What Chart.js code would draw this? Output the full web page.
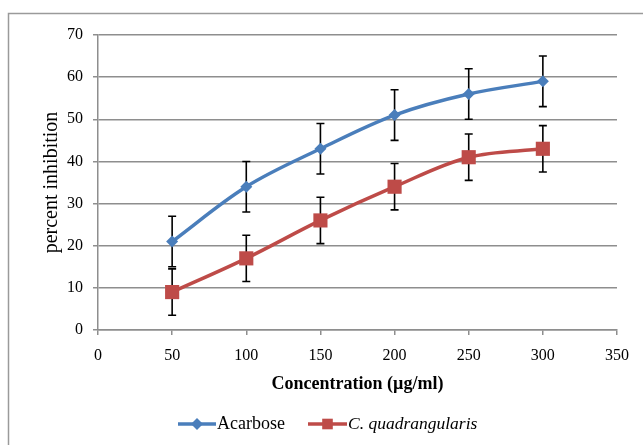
<!DOCTYPE html>
<html>
<head>
<meta charset="utf-8">
<script src="https://cdn.jsdelivr.net/npm/chart.js@4"></script>
<style>
  html, body { margin: 0; padding: 0; background: #fff; }
  #wrap { width: 643px; height: 445px; position: relative; }
</style>
</head>
<body>
<div id="wrap"><canvas id="inhibitionChart"></canvas></div>
<script>
const concentrations = [50, 100, 150, 200, 250, 300];
const acarbose = [21, 34, 43, 51, 56, 59];
const acarboseErr = [6, 6, 6, 6, 6, 6];
const cQuad = [9, 17, 26, 34, 41, 43];
const cQuadErr = [5.5, 5.5, 5.5, 5.5, 5.5, 5.5];
const xTicks = [0, 50, 100, 150, 200, 250, 300, 350];
const yTicks = [0, 10, 20, 30, 40, 50, 60, 70];
const seriesNames = ['Acarbose', 'C. quadrangularis'];

const blue = '#4a7ebb';
const red = '#be4b48';
const serif = "'Liberation Serif', 'Times New Roman', serif";

function toPoints(values) {
    return concentrations.map((c, i) => ({ x: c, y: values[i] }));
}

// error bars, drawn under the markers
const errorBars = {
    id: 'errorBars',
    beforeDatasetsDraw(chart) {
        const ctx = chart.ctx;
        const xs = chart.scales.x, ys = chart.scales.y;
        const sets = [[acarbose, acarboseErr], [cQuad, cQuadErr]];
        ctx.save();
        ctx.strokeStyle = '#000';
        ctx.lineWidth = 1.6;
        sets.forEach(([vals, errs]) => {
            vals.forEach((v, i) => {
                const x = xs.getPixelForValue(concentrations[i]);
                const top = ys.getPixelForValue(v + errs[i]);
                const bot = ys.getPixelForValue(v - errs[i]);
                ctx.beginPath();
                ctx.moveTo(x, top); ctx.lineTo(x, bot);
                ctx.moveTo(x - 4, top); ctx.lineTo(x + 4, top);
                ctx.moveTo(x - 4, bot); ctx.lineTo(x + 4, bot);
                ctx.stroke();
            });
        });
        ctx.restore();
    }
};

// outer frame and Excel-style legend
const frameAndLegend = {
    id: 'frameAndLegend',
    afterDraw(chart) {
        const ctx = chart.ctx;
        ctx.save();
        ctx.strokeStyle = '#9a9a9a';
        ctx.lineWidth = 1.5;
        ctx.beginPath();
        ctx.moveTo(8.5, 445); ctx.lineTo(8.5, 13.5); ctx.lineTo(643, 13.5);
        ctx.stroke();

        const y = 424;
        const items = [
            { x0: 178, x1: 216, color: blue, style: 'rectRot', r: 6, font: '18px ' },
            { x0: 308, x1: 347, color: red, style: 'rect', r: 7.5, font: 'italic 17.5px ' }
        ];
        items.forEach((it, i) => {
            ctx.strokeStyle = it.color;
            ctx.fillStyle = it.color;
            ctx.lineWidth = 3.5;
            ctx.beginPath();
            ctx.moveTo(it.x0, y); ctx.lineTo(it.x1, y);
            ctx.stroke();
            Chart.helpers.drawPoint(ctx, { pointStyle: it.style, radius: it.r, borderWidth: 0 }, (it.x0 + it.x1) / 2, y);
            ctx.fillStyle = '#000';
            ctx.font = it.font + serif;
            ctx.textBaseline = 'middle';
            ctx.fillText(seriesNames[i], it.x1 + 1, y);
        });
        ctx.restore();
    }
};

new Chart(document.getElementById('inhibitionChart'), {
    type: 'line',
    data: {
        datasets: [{
            label: seriesNames[0],
            data: toPoints(acarbose),
            borderColor: blue,
            backgroundColor: blue,
            borderWidth: 3.5,
            pointStyle: 'rectRot',
            pointRadius: 6,
            pointBorderWidth: 0,
            tension: 0.35
        }, {
            label: seriesNames[1],
            data: toPoints(cQuad),
            borderColor: red,
            backgroundColor: red,
            borderWidth: 3.5,
            pointStyle: 'rect',
            pointRadius: 10,
            pointBorderWidth: 0,
            tension: 0.35
        }]
    },
    options: {
        responsive: true,
        maintainAspectRatio: false,
        animation: false,
        layout: { padding: { top: 35, right: 26, bottom: 0, left: 0 } },
        plugins: {
            legend: { display: false },
            tooltip: { enabled: false }
        },
        scales: {
            x: {
                type: 'linear',
                min: 0,
                max: 350,
                afterBuildTicks: scale => { scale.ticks = xTicks.map(v => ({ value: v })); },
                afterFit: scale => { scale.height = 115; },
                grid: { drawOnChartArea: false, color: '#8e8e8e', lineWidth: 1.5, tickLength: 5 },
                border: { color: '#8e8e8e', width: 1.5 },
                ticks: { color: '#000', font: { family: serif, size: 16 }, padding: 11, maxRotation: 0 },
                title: {
                    display: true,
                    text: 'Concentration (\u00b5g/ml)',
                    color: '#000',
                    font: { family: serif, size: 18, weight: 'bold' },
                    padding: { top: 0, bottom: 50 }
                }
            },
            y: {
                min: 0,
                max: 70,
                afterBuildTicks: scale => { scale.ticks = yTicks.map(v => ({ value: v })); },
                afterFit: scale => { scale.width = 98; },
                grid: { color: '#8e8e8e', lineWidth: 1.5, tickLength: 5 },
                border: { color: '#8e8e8e', width: 1.5 },
                ticks: { color: '#000', font: { family: serif, size: 16 }, padding: 10 },
                title: {
                    display: true,
                    text: 'percent inhibition',
                    color: '#000',
                    font: { family: serif, size: 20 },
                    padding: { top: 40, bottom: 0 }
                }
            }
        }
    },
    plugins: [errorBars, frameAndLegend]
});
</script>
</body>
</html>
